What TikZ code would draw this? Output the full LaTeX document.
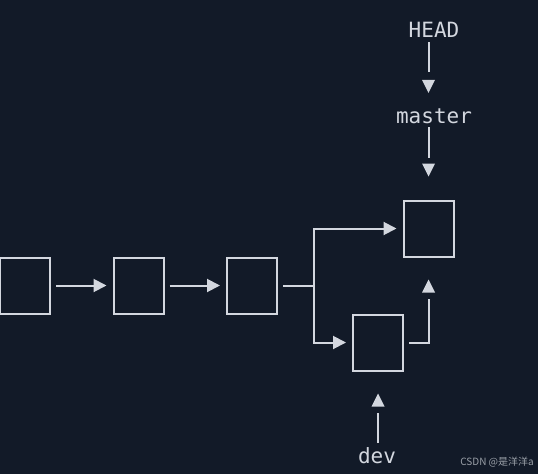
\documentclass[tikz,border=0pt]{standalone}
\usepackage{fontspec}
\setmonofont{DejaVu Sans Mono}
\newfontfamily\cjk{Noto Sans CJK SC}
\usetikzlibrary{arrows.meta}
\definecolor{bgdark}{HTML}{121A28}
\definecolor{linegray}{HTML}{D3D7DF}
\definecolor{markgray}{HTML}{9AA0A8}
\tikzset{
  commit/.style={draw=linegray,line width=2pt,minimum width=50pt,minimum height=56pt,inner sep=0pt},
  reflabel/.style={text=linegray,font=\ttfamily\fontsize{21}{21}\selectfont,inner sep=0pt,text height=16pt,text depth=0pt,anchor=base},
  link/.style={draw=linegray,line width=2pt,-{Triangle[length=13pt,width=13pt]},shorten <=5pt,shorten >=6pt},
  refline/.style={draw=linegray,line width=2pt},
  tipfill/.style={fill=linegray}
}
\begin{document}
\begin{tikzpicture}[x=1pt,y=-1pt]
  % Background
  \fill[bgdark] (0,0) rectangle (538,474);
  \useasboundingbox (0,0) rectangle (538,474);

  % Commits
  \node[commit] (c1) at (25,285.5) {};
  \node[commit] (c2) at (138.5,285.5) {};
  \node[commit] (c3) at (252,285.5) {};
  \node[commit] (mc) at (428.5,228.5) {};
  \node[commit] (dc) at (378,342.5) {};

  % History
  \draw[link] (c1.east) -- (c2.west);
  \draw[link] (c2.east) -- (c3.west);
  \draw[refline,shorten <=5pt] (c3.east) -- ++(36,0) coordinate (fork);
  \draw[link,shorten <=0pt] (fork) |- (mc.west);
  \draw[link,shorten <=0pt] (fork) |- (dc.west);

  % Merge path, head set apart from its line
  \draw[refline,shorten <=5pt,shorten >=41pt] (dc.east) -| (mc.south);
  \path (mc.south) ++(0,22) coordinate (tipm);
  \fill[tipfill] (tipm) -- ++(-6.5,13) -- ++(13,0) -- cycle;

  % Refs
  \node[reflabel] (head) at (434,37) {HEAD};
  \node[reflabel] (master) at (434,123) {master};
  \node[reflabel] (dev) at (377,463) {dev};

  % HEAD -> master
  \draw[refline,shorten <=5pt,shorten >=35pt] (head.south -| mc) -- (master.north -| mc);
  \path (master.north -| mc) ++(0,-14) coordinate (tiph);
  \fill[tipfill] (tiph) -- ++(-6.5,-13) -- ++(13,0) -- cycle;

  % master -> commit
  \draw[refline,shorten <=4pt,shorten >=42pt] (master.south -| mc) -- (mc.north);
  \path (mc.north) ++(0,-23) coordinate (tipc);
  \fill[tipfill] (tipc) -- ++(-6.5,-13) -- ++(13,0) -- cycle;

  % dev -> commit
  \draw[refline,shorten <=4pt,shorten >=41pt] (dev.north -| dc) -- (dc.south);
  \path (dc.south) ++(0,22) coordinate (tipd);
  \fill[tipfill] (tipd) -- ++(-6.5,13) -- ++(13,0) -- cycle;

  % Watermark
  \node[text=markgray,font=\cjk\fontsize{10}{10}\selectfont,anchor=east,inner sep=0pt] (mark) at (534,462) {CSDN @是洋洋a};
\end{tikzpicture}
\end{document}
